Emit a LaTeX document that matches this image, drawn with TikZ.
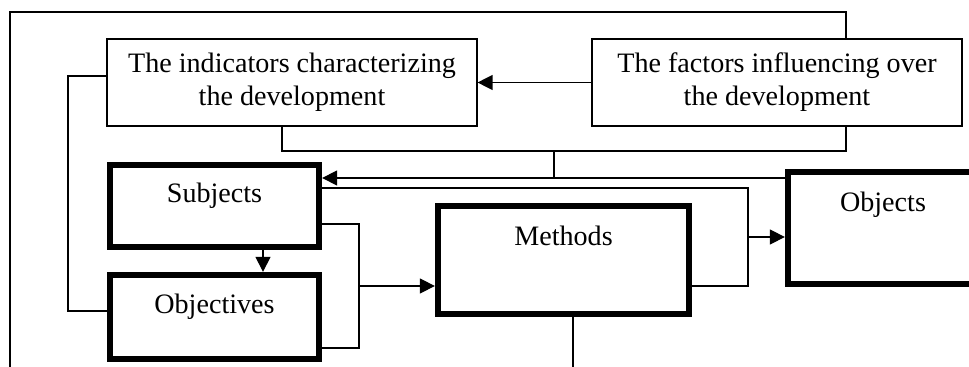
\documentclass[tikz,border=0pt]{standalone}
\usepackage{fontspec}
\setmainfont{Liberation Serif}
\usetikzlibrary{positioning}
\usetikzlibrary{arrows.meta}
\tikzset{x=0.02cm, y=-0.02cm,
    every node/.style={
        font=\fontsize{16}{18.7}\selectfont,
        align=center},
    thinbox/.style={
        draw,
        line width=0.7pt,
        inner sep=0pt},
    thickbox/.style={
        draw,
        line width=3.6pt,
        inner sep=0pt,
        text height=0.4cm},
    link/.style={
        draw,
        line width=0.7pt},
    >={Triangle[length=0.3cm,width=0.3cm]}}

\begin{document}
\begin{tikzpicture}
        \useasboundingbox (0,0) rectangle (969,367);

        \node[thinbox,minimum width=7.4cm,minimum height=1.74cm] (ind) at (292,82.5)
            {The indicators characterizing\\the development};
        \node[thinbox,minimum width=7.4cm,minimum height=1.74cm] (fac) at (777,82.5)
            {The factors influencing over\\the development};

        \node[thickbox,minimum width=4.18cm,minimum height=1.64cm,text depth=0.52cm] (subj) at (214.5,206) {Subjects};
        \node[thickbox,minimum width=4.18cm,minimum height=1.68cm,text depth=0.56cm] (obj) at (214.5,317) {Objectives};
        \node[thickbox,minimum width=5.02cm,minimum height=2.16cm,text depth=1.0cm] (meth) at (563.5,260) {Methods};
        \node[thickbox,minimum width=3.8cm,minimum height=2.24cm,text depth=1.04cm] (objs) at (883,228) {Objects};

        % free ends and bends
        \coordinate (frameR) at (846,12);
        \coordinate (frameL) at (10,12);
        \coordinate (frameB) at (10,380);
        \coordinate (busL) at (282,151);
        \coordinate (busR) at (846,151);
        \coordinate (busM) at (554,151);
        \coordinate (leftbend) at (68,76);
        \coordinate (subjbend) at (359,224);
        \coordinate (objsbend) at (748,188);
        \coordinate (methout) at (573,380);

        \draw[link,->] (fac) -- (ind);
        \draw[link] (fac.north -| frameR) -- (frameR) -- (frameL) -- (frameB);
        \draw[link] (ind.west |- leftbend) -- (leftbend) |- (obj.west |- 0,311);
        \draw[link] (ind.south -| busL) -- (busL) -- (busR) -- (fac.south -| busR);

        \draw[link,->] (objs.west |- 0,178) -- (subj.east |- 0,178);
        \draw[link] (busM) -- (busM |- 0,178);

        \draw[link] (subj.east |- objsbend) -- (objsbend) |- (meth.east |- 0,286);
        \draw[link,->] (objsbend |- 0,237) -- (objs.west |- 0,237);

        \draw[link] (subj.east |- subjbend) -- (subjbend) |- (obj.east |- 0,348);
        \draw[link,->] (subjbend |- 0,286) -- (meth.west |- 0,286);

        \draw[link,->] (subj.south -| 263,0) -- (obj.north -| 263,0);
        \draw[link] (meth.south -| methout) -- (methout);
    \end{tikzpicture}
\end{document}
